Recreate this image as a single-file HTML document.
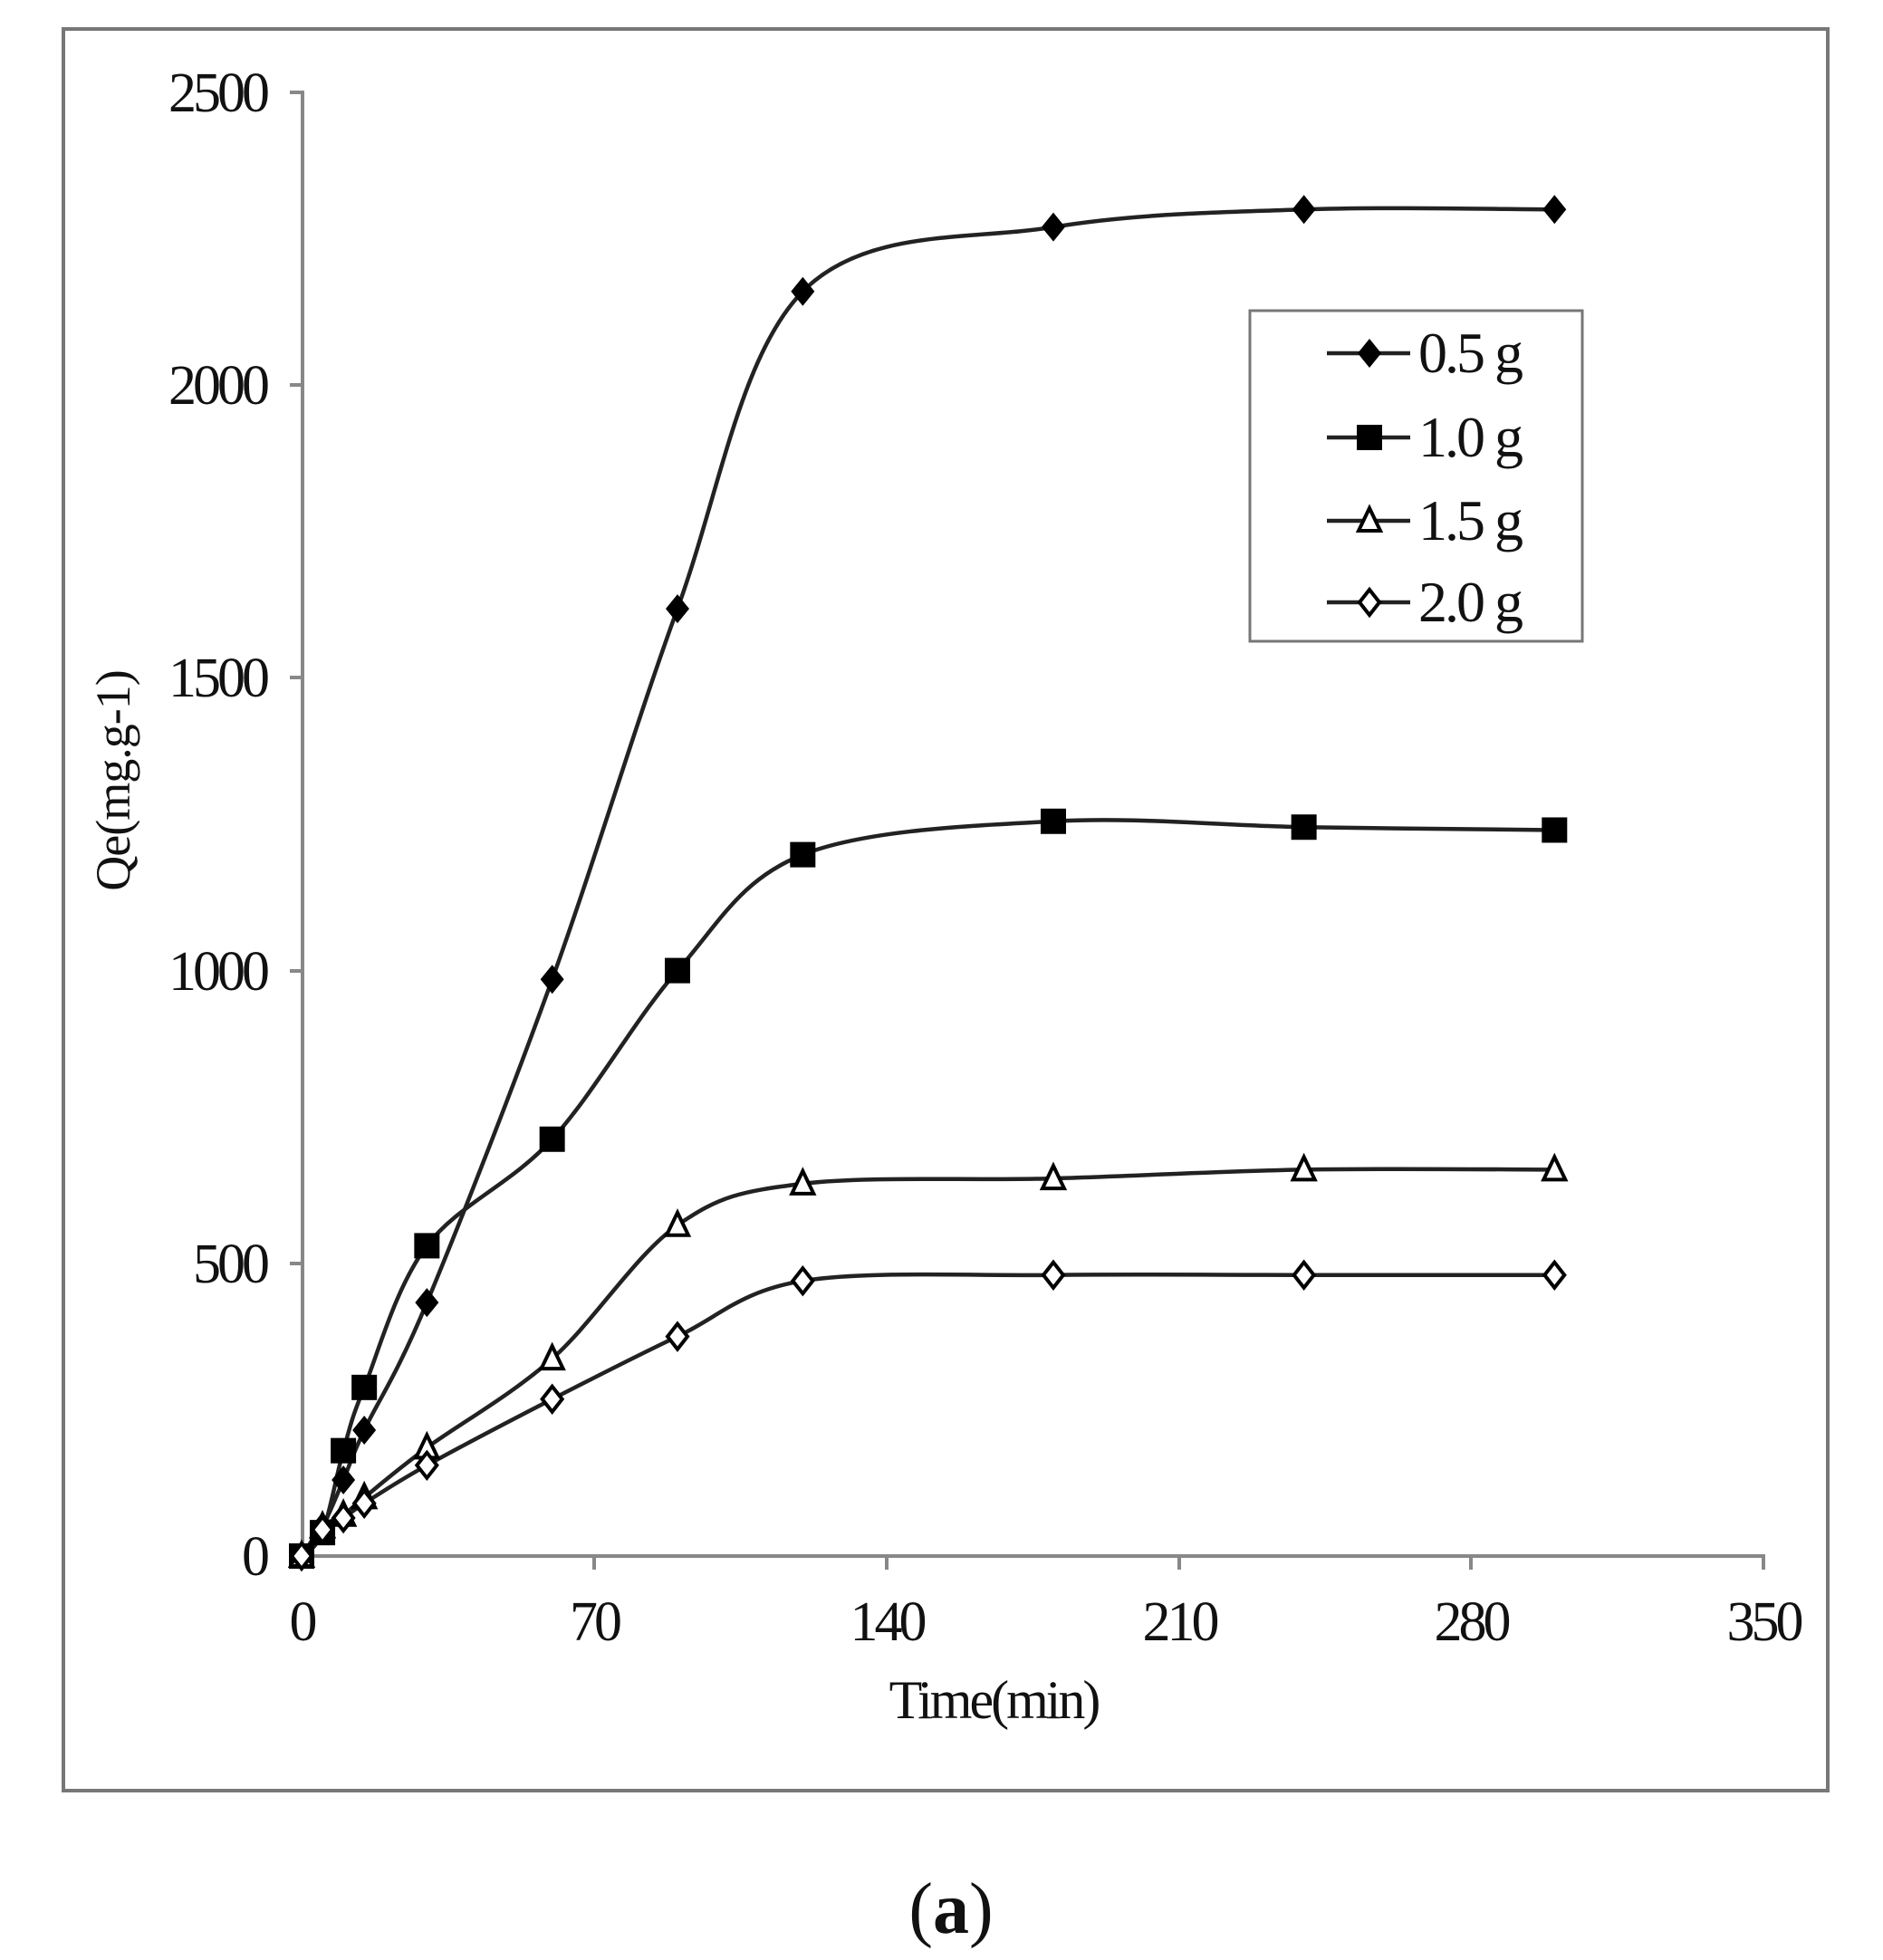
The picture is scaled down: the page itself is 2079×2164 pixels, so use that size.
<!DOCTYPE html>
<html><head><meta charset="utf-8"><style>
html,body{margin:0;padding:0;background:#fff;}
svg{display:block;}
text{font-family:"Liberation Serif",serif;fill:#111;}
</style></head><body>
<svg id="s" width="2079" height="2164" viewBox="0 0 2079 2164" xmlns="http://www.w3.org/2000/svg">
<rect x="0" y="0" width="2079" height="2164" fill="#fff"/>
<rect x="70" y="32" width="1948" height="1945" fill="none" stroke="#777" stroke-width="4"/>
<g stroke="#888" stroke-width="4" fill="none">
<line x1="334" y1="100" x2="334" y2="1720"/>
<line x1="332" y1="1718" x2="1949" y2="1718"/>
<line x1="320" y1="102" x2="334" y2="102"/>
<line x1="320" y1="425" x2="334" y2="425"/>
<line x1="320" y1="748" x2="334" y2="748"/>
<line x1="320" y1="1072" x2="334" y2="1072"/>
<line x1="320" y1="1395" x2="334" y2="1395"/>
<line x1="320" y1="1718" x2="334" y2="1718"/>
<line x1="333" y1="1718" x2="333" y2="1733"/>
<line x1="656" y1="1718" x2="656" y2="1733"/>
<line x1="979" y1="1718" x2="979" y2="1733"/>
<line x1="1302" y1="1718" x2="1302" y2="1733"/>
<line x1="1624" y1="1718" x2="1624" y2="1733"/>
<line x1="1947" y1="1718" x2="1947" y2="1733"/>
</g>
<g font-size="62" text-anchor="end" letter-spacing="-4">
<text x="294" y="123">2500</text>
<text x="294" y="446">2000</text>
<text x="294" y="769">1500</text>
<text x="294" y="1093">1000</text>
<text x="294" y="1416">500</text>
<text x="294" y="1739">0</text>
</g>
<g font-size="62" text-anchor="middle" letter-spacing="-4">
<text x="333" y="1811">0</text>
<text x="656" y="1811">70</text>
<text x="979" y="1811">140</text>
<text x="1302" y="1811">210</text>
<text x="1624" y="1811">280</text>
<text x="1947" y="1811">350</text>
</g>
<text x="1097" y="1897" font-size="60" text-anchor="middle" letter-spacing="-3">Time(min)</text>
<text transform="translate(143,862) rotate(-90)" font-size="54" text-anchor="middle" letter-spacing="-1">Qe(mg.g-1)</text>
<text x="1050" y="2134" font-size="80" text-anchor="middle"><tspan>(</tspan><tspan font-weight="bold">a</tspan><tspan>)</tspan></text>
<g id="plot"></g>
<rect x="1380" y="343" width="367" height="365" fill="#fff" stroke="#777" stroke-width="3"/>
<g id="leg"></g>
</svg>
<script>
var X=function(t){return 333+t*4.611;}, Y=function(v){return 1718-v*0.6464;};
var T=[0,5,10,15,30,60,90,120,180,240,300];
var S=[
 {v:[0,50,130,215,433,985,1618,2160,2270,2300,2300],m:'d',n:'0.5 g'},
 {v:[0,40,180,288,530,712,1000,1198,1255,1245,1240],m:'s',n:'1.0 g'},
 {v:[0,50,70,100,185,337,565,636,645,660,660],m:'t',n:'1.5 g'},
 {v:[0,45,65,90,155,268,375,470,480,480,480],m:'d2',n:'2.0 g'}];
var NS='http://www.w3.org/2000/svg';
function el(n,a,p){var e=document.createElementNS(NS,n);for(var k in a)e.setAttribute(k,a[k]);p.appendChild(e);return e;}
function marker(m,x,y,p){
 if(m=='d')el('path',{d:'M'+x+' '+(y-16)+'L'+(x+13)+' '+y+'L'+x+' '+(y+16)+'L'+(x-13)+' '+y+'Z',fill:'#000'},p);
 else if(m=='d2')el('path',{d:'M'+x+' '+(y-14)+'L'+(x+11)+' '+y+'L'+x+' '+(y+14)+'L'+(x-11)+' '+y+'Z',fill:'#fff',stroke:'#000','stroke-width':4},p);
 else if(m=='s')el('rect',{x:x-14,y:y-14,width:28,height:28,fill:'#000'},p);
 else el('path',{d:'M'+x+' '+(y-14)+'L'+(x+12)+' '+(y+11)+'L'+(x-12)+' '+(y+11)+'Z',fill:'#fff',stroke:'#000','stroke-width':4},p);
}
var g=document.getElementById('plot');
S.forEach(function(s){
 var P=T.map(function(t,i){return [X(t),Y(s.v[i])];});
 var d='M'+P[0][0]+' '+P[0][1];
 for(var i=0;i<P.length-1;i++){
  var p0=P[Math.max(i-1,0)],p1=P[i],p2=P[i+1],p3=P[Math.min(i+2,P.length-1)];
  var c1=[p1[0]+(p2[0]-p0[0])/6,p1[1]+(p2[1]-p0[1])/6];
  var c2=[p2[0]-(p3[0]-p1[0])/6,p2[1]-(p3[1]-p1[1])/6];
  d+='C'+c1[0]+' '+c1[1]+' '+c2[0]+' '+c2[1]+' '+p2[0]+' '+p2[1];
 }
 el('path',{d:d,fill:'none',stroke:'#222','stroke-width':4.5},g);
});
S.forEach(function(s){T.forEach(function(t,i){marker(s.m,X(t),Y(s.v[i]),g);});});
var L=document.getElementById('leg');var ly=[390,483,575,665];
S.forEach(function(s,i){
 el('line',{x1:1465,y1:ly[i],x2:1557,y2:ly[i],stroke:'#222','stroke-width':4.5},L);
 marker(s.m,1512,ly[i],L);
 var t=el('text',{x:1566,y:ly[i]+21,'font-size':64,'letter-spacing':'-3'},L);t.textContent=s.n;
});
</script>
</body></html>
